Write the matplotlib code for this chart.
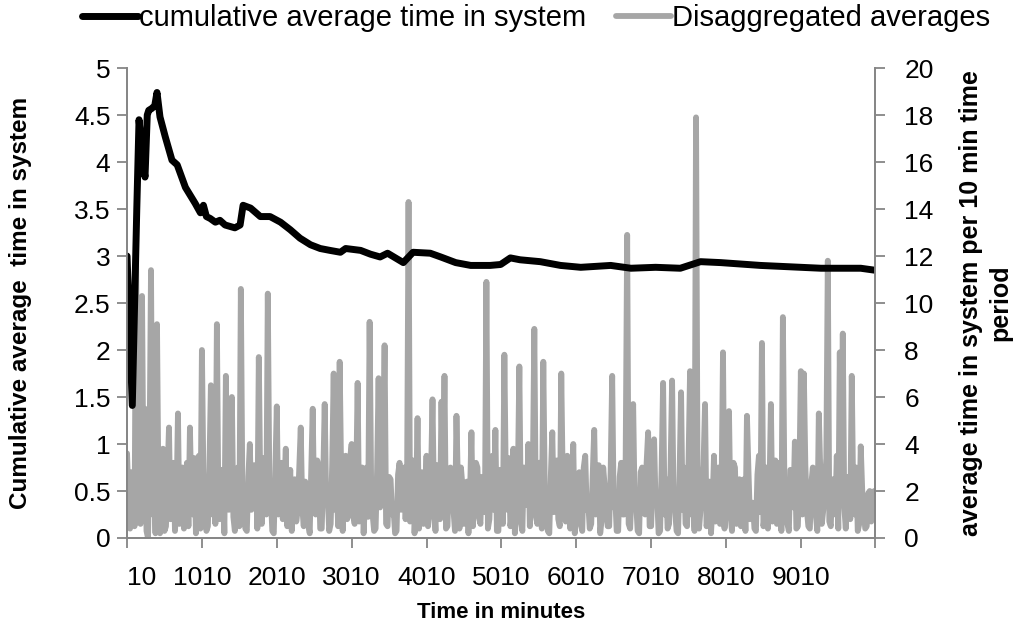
import numpy as np
import matplotlib
matplotlib.use("Agg")
import matplotlib.pyplot as plt

plt.rcParams['font.family'] = ['Liberation Sans', 'DejaVu Sans']

# disaggregated averages (right axis), one value every 20 minutes
step = 20
disagg = [
    3.6, 1.5, 0.4, 2.8, 2.5, 0.5, 12.2, 3.0, 1.2, 0.6, 10.3, 2.0, 5.5, 0.3, 0.0, 3.5, 11.4, 1.0, 3.0, 0.2,
    9.1, 1.8, 0.2, 2.4, 3.8, 0.3, 0.5, 2.6, 4.7, 0.8, 1.5, 3.2, 0.3, 1.4, 5.3, 0.6, 2.0, 3.0, 0.4, 2.2,
    3.2, 0.5, 4.7, 1.6, 1.0, 3.4, 0.2, 2.0, 3.5, 0.4, 8.0, 2.6, 1.5, 0.3, 0.5, 3.0, 6.5, 1.0, 2.2, 0.6,
    9.1, 1.4, 0.8, 2.9, 2.5, 0.2, 6.9, 1.8, 1.2, 3.3, 6.0, 0.9, 0.3, 2.7, 3.0, 0.5, 10.6, 2.2, 1.0, 0.4,
    0.3, 2.6, 4.0, 1.2, 1.5, 3.1, 2.8, 0.4, 7.7, 2.0, 0.6, 3.4, 3.2, 1.0, 10.4, 2.5, 1.8, 0.3, 0.2, 2.8,
    5.6, 1.0, 2.0, 3.2, 0.8, 2.1, 3.8, 0.5, 1.5, 2.9, 0.3, 1.6, 2.5, 0.7, 1.2, 3.0, 4.7, 1.3, 0.5, 2.4,
    2.0, 0.6, 0.2, 2.8, 5.5, 1.1, 1.0, 3.3, 3.0, 0.4, 0.4, 2.5, 5.7, 1.5, 1.8, 0.3, 0.6, 3.1, 7.0, 1.2,
    2.2, 0.5, 7.5, 2.7, 0.3, 1.8, 3.5, 0.8, 1.0, 3.4, 4.0, 1.0, 0.6, 2.2, 6.6, 0.7, 1.5, 3.0, 0.2, 1.7,
    3.0, 0.9, 9.2, 2.4, 1.0, 0.3, 0.4, 2.9, 6.8, 1.3, 2.0, 3.5, 8.2, 0.6, 0.5, 2.6, 2.5, 1.0, 1.2, 0.2,
    0.3, 2.7, 3.2, 1.2, 1.5, 3.0, 0.8, 2.2, 14.3, 0.7, 2.5, 3.3, 0.2, 1.5, 5.1, 0.4, 1.8, 2.8, 0.6, 1.9,
    3.5, 0.5, 1.0, 2.6, 5.9, 1.4, 0.3, 3.1, 2.8, 0.8, 5.8, 2.0, 6.9, 0.4, 0.5, 2.8, 3.0, 1.2, 1.2, 0.3,
    5.2, 2.2, 0.4, 3.0, 2.2, 0.6, 1.5, 2.4, 0.2, 1.7, 4.5, 0.5, 1.8, 3.2, 3.0, 0.9, 0.6, 2.6, 2.5, 1.1,
    10.9, 0.4, 0.8, 2.7, 3.5, 1.2, 4.6, 0.3, 0.3, 2.9, 2.0, 0.6, 7.8, 2.2, 1.2, 3.4, 0.5, 1.0, 3.8, 0.2,
    1.0, 2.5, 7.3, 0.8, 0.3, 3.0, 2.5, 1.4, 4.0, 0.5, 1.5, 2.7, 8.9, 1.0, 0.6, 3.2, 3.2, 0.4, 7.5, 1.9,
    1.2, 0.3, 0.2, 2.6, 4.5, 1.1, 2.0, 3.3, 0.8, 0.5, 7.0, 2.3, 1.5, 0.7, 3.5, 2.9, 0.4, 1.3, 4.0, 0.2,
    1.0, 2.4, 2.8, 0.6, 0.3, 3.0, 3.5, 1.2, 1.5, 0.4, 0.6, 2.7, 4.6, 1.0, 2.0, 3.1, 0.2, 0.8, 3.0, 2.2,
    1.2, 0.5, 0.5, 2.9, 6.9, 1.3, 1.8, 0.3, 0.3, 2.6, 3.2, 1.0, 1.0, 3.4, 12.9, 0.6, 0.4, 2.1, 5.7, 1.5,
    1.5, 0.3, 0.2, 2.8, 3.0, 1.1, 1.0, 3.2, 4.5, 0.5, 0.5, 2.4, 4.2, 1.4, 1.8, 0.2, 0.3, 2.9, 6.6, 1.0,
    2.5, 0.4, 0.6, 3.0, 6.7, 1.6, 1.2, 0.3, 0.2, 2.7, 6.2, 1.2, 3.0, 0.6, 0.5, 3.3, 7.1, 1.0, 1.5, 0.3,
    17.9, 2.6, 0.4, 1.2, 2.2, 3.1, 5.7, 0.5, 0.8, 2.4, 0.2, 1.4, 3.5, 0.7, 1.5, 3.0, 0.6, 1.8, 7.9, 0.4,
    1.2, 2.8, 5.4, 1.0, 0.3, 3.2, 3.0, 0.6, 1.8, 2.5, 0.5, 1.2, 2.5, 0.3, 5.2, 2.9, 0.8, 1.5, 1.5, 0.4,
    0.3, 2.7, 3.5, 1.1, 8.3, 0.5, 1.0, 3.0, 0.4, 1.9, 5.7, 0.7, 2.0, 3.3, 0.6, 1.2, 3.2, 0.3, 9.4, 2.4,
    1.5, 0.6, 0.3, 2.9, 2.8, 1.3, 4.1, 0.4, 0.5, 2.6, 7.1, 1.0, 7.0, 3.1, 1.2, 0.5, 0.4, 2.3, 3.0, 1.4,
    1.0, 0.3, 5.3, 2.8, 0.6, 1.2, 2.2, 3.4, 11.8, 0.7, 0.5, 2.5, 1.8, 1.0, 3.5, 0.4, 7.9, 2.2, 8.7, 1.3,
    0.4, 2.6, 2.5, 0.8, 6.9, 1.6, 1.0, 3.0, 0.3, 0.6, 3.9, 2.0, 1.2, 0.4, 0.5, 1.9, 2.0, 0.7, 1.5, 2.0,
]
disagg_t = 10 + step * np.arange(len(disagg))

# cumulative average time in system (left axis)
cum_t = [10, 80, 140, 170, 200, 220, 250, 280, 300, 340, 380, 410, 450, 520,
         610, 680, 790, 920, 990, 1030, 1070, 1120, 1190, 1250, 1320, 1450,
         1520, 1560, 1660, 1790, 1920, 2060, 2190, 2320, 2460, 2590, 2720,
         2860, 2930, 3130, 3260, 3390, 3490, 3700, 3830, 4060, 4200, 4400,
         4600, 4860, 5000, 5130, 5260, 5530, 5800, 6070, 6470, 6740, 7070,
         7400, 7670, 7940, 8470, 9010, 9280, 9810, 9990]
cum_avg = [3.0, 1.41, 3.5, 4.45, 4.2, 4.0, 3.84, 4.5, 4.55, 4.57, 4.6, 4.74,
           4.48, 4.27, 4.02, 3.97, 3.73, 3.56, 3.46, 3.54, 3.42, 3.40, 3.36,
           3.38, 3.33, 3.30, 3.33, 3.54, 3.51, 3.42, 3.42, 3.36, 3.28, 3.19,
           3.12, 3.08, 3.06, 3.04, 3.08, 3.06, 3.02, 2.99, 3.03, 2.93, 3.04,
           3.03, 2.99, 2.93, 2.90, 2.90, 2.91, 2.98, 2.96, 2.94, 2.90, 2.88,
           2.90, 2.87, 2.88, 2.87, 2.94, 2.93, 2.90, 2.88, 2.87, 2.87, 2.85]

xtick_vals = [10, 1010, 2010, 3010, 4010, 5010, 6010, 7010, 8010, 9010, 10000]
xtick_labels = ['10', '1010', '2010', '3010', '4010', '5010', '6010', '7010', '8010', '9010', '']

axis_grey = '#868686'
fig = plt.figure(figsize=(10.18, 6.42), dpi=100)
ax = fig.add_axes([0.1248, 0.162, 0.7347, 0.732])
ax2 = ax.twinx()

l2, = ax2.plot(disagg_t, disagg, color='#A6A6A6', lw=4.2, solid_joinstyle='round',
               solid_capstyle='round', label='Disaggregated averages')
l1, = ax.plot(cum_t, cum_avg, color='black', lw=5, solid_joinstyle='round',
              solid_capstyle='round', label='cumulative average time in system')
ax.set_zorder(ax2.get_zorder() + 1)
ax.patch.set_visible(False)

ax.set_xlim(10, 10000)
ax.set_ylim(0, 5)
ax2.set_ylim(0, 20)
ax.set_yticks(np.arange(0, 5.01, 0.5))
ax.set_yticklabels(['0', '0.5', '1', '1.5', '2', '2.5', '3', '3.5', '4', '4.5', '5'])
ax2.set_yticks(np.arange(0, 21, 2))
ax.set_xticks(xtick_vals)
ax.set_xticklabels(xtick_labels)
ax.get_xticklabels()[0].set_ha('left')

for a in (ax, ax2):
    a.spines['top'].set_visible(False)
    for s in ('left', 'right', 'bottom'):
        a.spines[s].set_color(axis_grey)
        a.spines[s].set_linewidth(1.3)
    a.tick_params(colors=axis_grey, labelcolor='black', labelsize=19, length=7, width=1.3)
ax.tick_params(axis='x', pad=13)
ax.tick_params(axis='y', pad=5)
ax2.tick_params(axis='y', pad=14)

ax.set_xlabel('Time in minutes', fontsize=16, fontweight='bold', labelpad=9)
ax.set_ylabel('Cumulative average  time in system', fontsize=17.5, fontweight='bold', labelpad=30)
ax2.set_ylabel('average time in system per 10 min time\nperiod', fontsize=18,
               fontweight='bold', rotation=90, labelpad=18, linespacing=1.3)

fig.legend(handles=[l1, l2], loc='upper center', bbox_to_anchor=(0.527, 1.035), ncol=2,
           frameon=False, fontsize=21, handlelength=1.9, columnspacing=1.0, handletextpad=0.05)

fig.savefig('out.png', dpi=100)
